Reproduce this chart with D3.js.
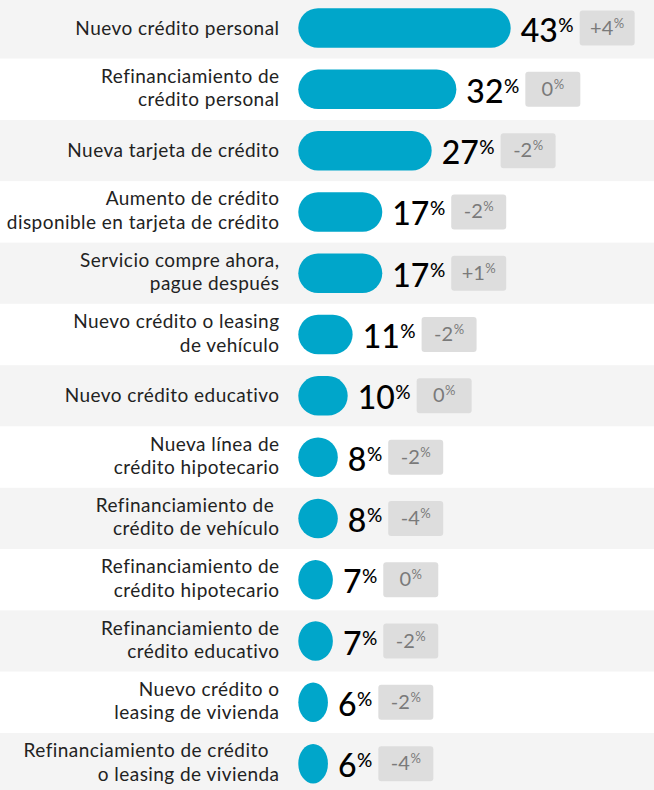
<!DOCTYPE html>
<html>
<head>
<meta charset="utf-8">
<script src="https://cdn.jsdelivr.net/npm/d3@7"></script>
<style>
  html, body { margin: 0; padding: 0; background: #fff; }
  svg { display: block; }
  text.label { white-space: pre; }
</style>
</head>
<body>
<div id="container"></div>
<script>
// data
const labels = [
  ["Nuevo crédito personal"],
  ["Refinanciamiento de", "crédito personal"],
  ["Nueva tarjeta de crédito"],
  ["Aumento de crédito", "disponible en tarjeta de crédito"],
  ["Servicio compre ahora,", "pague después"],
  ["Nuevo crédito o leasing", "de vehículo"],
  ["Nuevo crédito educativo"],
  ["Nueva línea de", "crédito hipotecario"],
  ["Refinanciamiento de ", "crédito de vehículo"],
  ["Refinanciamiento de", "crédito hipotecario"],
  ["Refinanciamiento de", "crédito educativo"],
  ["Nuevo crédito o", "leasing de vivienda"],
  ["Refinanciamiento de crédito  ", "o leasing de vivienda"]
];
const values = [43, 32, 27, 17, 17, 11, 10, 8, 8, 7, 7, 6, 6];
const changes = ["+4", "0", "-2", "-2", "+1", "-2", "0", "-2", "-4", "0", "-2", "-2", "-4"];

const w = 654;
const h = 790;
const rowH = 61.3;
const topY = -2.6;
const barLeft = 298.3;
const barH = 39.5;
const blue = "#00a6ca";
const font = "Lato, 'DejaVu Sans', sans-serif";

const idx = values.map((d, i) => i);

const yScale = d3.scaleBand()
  .domain(idx)
  .range([topY, topY + rowH * values.length])
  .padding(0);

const xScale = d3.scaleLinear()
  .domain([0, 43])
  .range([0, 212.4]);

const svg = d3.select("#container")
  .append("svg")
  .attr("width", w)
  .attr("height", h)
  .style("font-family", font);

// row backgrounds
svg.selectAll("rect.bg")
  .data(idx)
  .enter()
  .append("rect")
  .attr("class", "bg")
  .attr("x", 0)
  .attr("y", d => yScale(d))
  .attr("width", w)
  .attr("height", yScale.bandwidth())
  .attr("fill", d => d % 2 === 0 ? "#f4f4f4" : "#ffffff");

const rows = svg.selectAll("g.row")
  .data(idx)
  .enter()
  .append("g")
  .attr("class", "row")
  .attr("transform", d => "translate(0," + (yScale(d) + yScale.bandwidth() / 2) + ")");

// category labels, right aligned
rows.append("text")
  .attr("class", "label")
  .attr("text-anchor", "end")
  .attr("font-size", 19)
  .attr("letter-spacing", 0.45)
  .attr("fill", "#222")
  .each(function(d) {
    const lines = labels[d];
    const t = d3.select(this);
    const y0 = lines.length === 1 ? 6.5 : -6.5;
    lines.forEach((line, j) => {
      t.append("tspan")
        .attr("x", 279.5)
        .attr("y", y0 + j * 23.5)
        .text(line);
    });
  });

// bars
rows.append("rect")
  .attr("class", "bar")
  .attr("x", barLeft)
  .attr("y", -barH / 2)
  .attr("width", d => xScale(values[d]))
  .attr("height", barH)
  .attr("rx", barH / 2)
  .attr("ry", barH / 2)
  .attr("fill", blue);

// value labels
const valText = rows.append("text")
  .attr("class", "val")
  .attr("x", d => barLeft + xScale(values[d]) + 10)
  .attr("y", 13.5)
  .attr("font-size", 32)
  .attr("font-weight", 500)
  .attr("fill", "#000");
valText.append("tspan").text(d => values[d]);
valText.append("tspan")
  .attr("font-size", 19)
  .attr("dx", 0.5)
  .attr("dy", -10)
  .text("%");

// change boxes
rows.each(function(d) {
  const g = d3.select(this);
  const bb = g.select("text.val").node().getBBox();
  const bx = bb.x + bb.width + 6;
  g.append("rect")
    .attr("x", bx)
    .attr("y", -17.5)
    .attr("width", 55)
    .attr("height", 35)
    .attr("rx", 3)
    .attr("fill", "#dddddd");
  const ct = g.append("text")
    .attr("x", bx + 27.5)
    .attr("y", 6.5)
    .attr("text-anchor", "middle")
    .attr("font-size", 20)
    .attr("fill", "#7a7a7a");
  ct.append("tspan").text(changes[d]);
  ct.append("tspan")
    .attr("font-size", 13)
    .attr("dx", 0.5)
    .attr("dy", -7)
    .text("%");
});
</script>
</body>
</html>
